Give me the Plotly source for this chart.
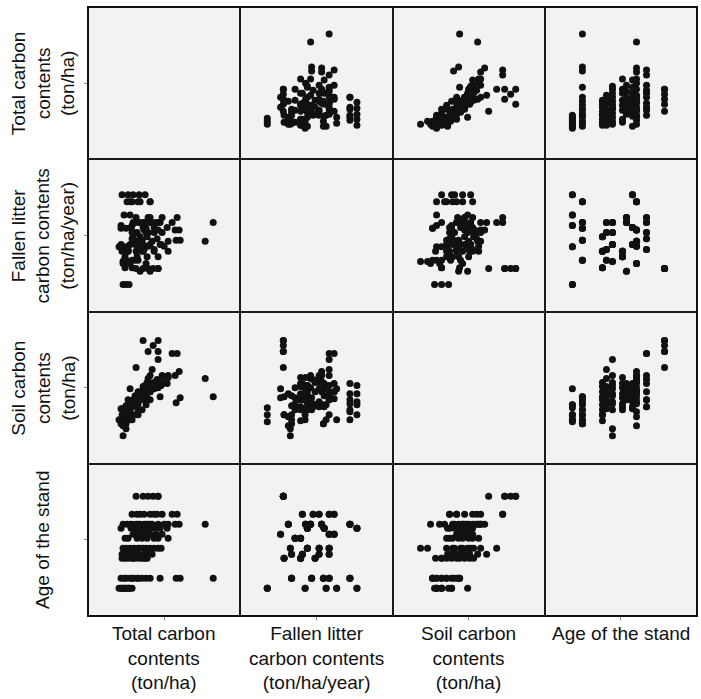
import plotly.graph_objects as go
from plotly.subplots import make_subplots

# ---- data: one row per plot (stand age, litter, total carbon, soil carbon) ----
age = [20]*11 + [25]*15 + [35]*10 + [37]*9 + [40]*12 + [45]*8 + [47]*8 + [50]*11 + [52]*18 + [57]*10 + [66]*6

litter = [4.66, 4.66, 3.85, 3.85, 3.43, 3.43, 2.59, 2.59, 1.08, 1.08, 1.08,
          4.38, 4.38, 4.38, 3.55, 3.55, 3.55, 3.32, 3.32, 3.32, 2.85, 2.85, 2.85, 2.05, 2.05, 2.05,
          2.99, 2.99, 2.99, 2.41, 2.41, 2.41, 2.41, 1.75, 1.75, 1.75,
          3.55, 3.55, 3.15, 3.15, 2.48, 2.48, 2.48, 2.05, 2.05,
          2.00, 2.00, 3.55, 3.55, 3.55, 3.15, 3.15, 3.15, 2.68, 2.68, 2.68, 2.68,
          2.41, 2.41, 2.41, 2.41, 2.19, 2.19, 2.19, 2.19,
          3.75, 3.75, 3.75, 3.55, 3.55, 3.55, 1.61, 1.61,
          4.66, 4.66, 4.66, 3.35, 3.35, 3.35, 3.35, 2.68, 2.68, 2.68, 2.68,
          4.38, 4.38, 4.38, 4.38, 3.25, 3.25, 3.25, 3.25, 2.81, 2.81, 2.81, 2.81, 2.61, 2.61, 2.61, 1.92, 1.92, 1.92,
          3.75, 3.75, 3.55, 3.55, 3.15, 3.15, 2.91, 2.91, 2.48, 2.48,
          1.72, 1.72, 1.72, 1.72, 1.72, 1.72]

total = [88, 100, 92, 104, 86, 108, 82, 96, 90, 96, 102,
         144, 120, 104, 270, 164, 112, 136, 96, 86, 204, 196, 128, 120, 108, 92,
         138, 124, 110, 130, 116, 100, 88, 134, 108, 94,
         148, 120, 140, 108, 132, 100, 88, 114, 96,
         90, 96, 160, 144, 124, 152, 136, 112, 166, 130, 120, 104,
         180, 152, 128, 100, 160, 138, 118, 94,
         168, 140, 116, 156, 132, 110, 144, 124,
         134, 122, 110, 178, 152, 130, 106, 164, 144, 114, 86,
         144, 124, 108, 98, 202, 194, 160, 132, 254, 180, 148, 116, 172, 140, 120, 136, 104, 90,
         198, 144, 188, 132, 168, 118, 158, 108, 152, 124,
         160, 150, 130, 160, 140, 116]

soil = [59, 69, 54, 85, 54, 69, 54, 59, 52, 59, 66,
        74, 64, 54, 77, 77, 59, 69, 50, 50, 76, 71, 64, 59, 54, 50,
        91, 82, 69, 87, 74, 64, 53, 77, 59, 59,
        104, 82, 95, 70, 87, 74, 65, 78, 68,
        38, 45, 114, 98, 80, 91, 85, 72, 88, 78, 70, 64,
        96, 90, 80, 67, 86, 76, 70, 64,
        90, 82, 75, 88, 80, 74, 85, 76,
        88, 80, 72, 90, 85, 78, 67, 88, 82, 74, 65,
        90, 80, 70, 62, 102, 98, 92, 82, 95, 98, 86, 72, 96, 84, 76, 80, 57, 48,
        120, 82, 120, 74, 98, 67, 94, 67, 90, 74,
        133, 128, 133, 122, 122, 106]

labels = ["Total carbon<br>contents<br>(ton/ha)",
          "Fallen litter<br>carbon contents<br>(ton/ha/year)",
          "Soil carbon<br>contents<br>(ton/ha)",
          "Age of the stand"]
variables = [total, litter, soil, age]
ranges = [[20, 324], [0, 6.08], [10, 162], [6.2, 82.2]]

W, H = 701, 699
ML, MR, MT, MB = 88, 4, 7, 83
BG = "#f2f2f2"
FS = 19

fig = make_subplots(rows=4, cols=4, horizontal_spacing=0, vertical_spacing=0)

for r in range(4):
    for c in range(4):
        if r != c:
            fig.add_trace(go.Scatter(
                x=variables[c], y=variables[r], mode="markers",
                marker=dict(size=7, color="#111111", line=dict(width=0)),
                hoverinfo="skip", showlegend=False), row=r + 1, col=c + 1)
        else:
            fig.add_trace(go.Scatter(x=[None], y=[None], mode="markers",
                                     hoverinfo="skip", showlegend=False),
                          row=r + 1, col=c + 1)
        xa = dict(range=ranges[c], showgrid=False, zeroline=False, showline=True,
                  mirror=True, linecolor="#1a1a1a", linewidth=1,
                  showticklabels=False, fixedrange=True)
        ya = dict(range=ranges[r], showgrid=False, zeroline=False, showline=True,
                  mirror=True, linecolor="#1a1a1a", linewidth=1,
                  showticklabels=False, fixedrange=True)
        if r == 3:
            xa.update(ticks="outside", ticklen=3, tickcolor="#888888",
                      tickvals=[(ranges[c][0] + ranges[c][1]) / 2])
        else:
            xa.update(ticks="", tickvals=[])
        if c == 0:
            ya.update(ticks="outside", ticklen=3, tickcolor="#888888",
                      tickvals=[(ranges[r][0] + ranges[r][1]) / 2])
        else:
            ya.update(ticks="", tickvals=[])
        fig.update_xaxes(xa, row=r + 1, col=c + 1)
        fig.update_yaxes(ya, row=r + 1, col=c + 1)

pw = W - ML - MR
ph = H - MT - MB
annotations = []
for i, lab in enumerate(labels):
    cx = (i + 0.5) / 4
    annotations.append(dict(text=lab, xref="paper", yref="paper", x=cx,
                            y=-(621 - (H - MB)) / ph, xanchor="center", yanchor="top",
                            showarrow=False, align="center",
                            font=dict(size=FS, color="#111111")))
    cy = 1 - (i + 0.5) / 4
    annotations.append(dict(text=lab, xref="paper", yref="paper",
                            x=(43 - ML) / pw, y=cy, xanchor="center", yanchor="middle",
                            textangle=-90, showarrow=False, align="center",
                            font=dict(size=FS, color="#111111")))

fig.update_layout(
    width=W, height=H, autosize=False,
    margin=dict(l=ML, r=MR, t=MT, b=MB, pad=0),
    paper_bgcolor="white", plot_bgcolor=BG,
    font=dict(family="Liberation Sans, Arial, sans-serif", size=FS, color="#111111"),
    annotations=annotations,
    shapes=[dict(type="rect", xref="paper", yref="paper", x0=0, y0=0, x1=1, y1=1,
                 layer="below", fillcolor=BG, line=dict(width=0)),
            dict(type="rect", xref="paper", yref="paper", x0=0, y0=0, x1=1, y1=1,
                 line=dict(color="#111111", width=2))],
)

fig.write_html("out.html", config={"displayModeBar": False})
with open("out.html", "r", encoding="utf-8") as f:
    html = f.read()
html = html.replace("<head>", "<head><style>html,body{margin:0;padding:0;overflow:hidden;}</style>", 1)
with open("out.html", "w", encoding="utf-8") as f:
    f.write(html)
